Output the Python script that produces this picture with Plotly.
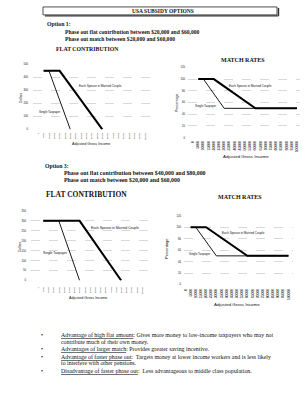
import plotly.graph_objects as go

W, H = 308, 400

# ---------------- data ----------------
INCOME_TICKS = [0, 5000, 10000, 15000, 20000, 25000, 30000, 35000, 40000, 45000,
                50000, 55000, 60000, 65000, 70000, 75000, 80000, 85000, 90000,
                95000, 100000]
INCOME_LABELS = ["0", "5000", "10000", "15000", "20000", "25000", "30000", "35000",
                 "40000", "45000", "50000", "55000", "60000", "65000", "70000",
                 "75000", "80000", "85000", "90000", "95000", "100000"]

OPT1_FLAT_MARRIED_X = [5000, 20000, 60000]
OPT1_FLAT_MARRIED_Y = [450, 450, 0]
OPT1_FLAT_SINGLE_X = [5000, 10000, 30000]
OPT1_FLAT_SINGLE_Y = [450, 450, 0]

MATCH_MARRIED_X = [5000, 20000, 60000, 100000]
MATCH_MARRIED_Y = [100, 100, 50, 50]
MATCH_SINGLE_X = [5000, 10000, 30000, 100000]
MATCH_SINGLE_Y = [100, 100, 50, 50]

OPT3_FLAT_MARRIED_X = [5000, 40000, 80000]
OPT3_FLAT_MARRIED_Y = [300, 300, 0]
OPT3_FLAT_SINGLE_X = [5000, 20000, 40000]
OPT3_FLAT_SINGLE_Y = [300, 300, 0]

DOLLAR_TICKS_OPT1 = [0, 100, 200, 300, 400, 500]
DOLLAR_TICKS_OPT3 = [0, 50, 100, 150, 200, 250, 300, 350]
PCT_TICKS = [0, 20, 40, 60, 80, 100, 120]

SERIF = "Liberation Serif"
SANS = "Liberation Sans"

# ---------------- panels (pixel geometry) ----------------
panels = [
    dict(name="1", left=33, right=150, top=63, bottom=128.7, x0=38.3, x100=145,
         ymax=500, yticks=DOLLAR_TICKS_OPT1, xfs=2.2, yfs=2.7, ystand=4, xstand=2,
         married=(OPT1_FLAT_MARRIED_X, OPT1_FLAT_MARRIED_Y),
         single=(OPT1_FLAT_SINGLE_X, OPT1_FLAT_SINGLE_Y)),
    dict(name="2", left=188, right=300, top=66, bottom=137, x0=193, x100=297,
         ymax=120, yticks=PCT_TICKS, xfs=3.3, yfs=2.7, ystand=2, xstand=2,
         married=(MATCH_MARRIED_X, MATCH_MARRIED_Y),
         single=(MATCH_SINGLE_X, MATCH_SINGLE_Y)),
    dict(name="3", left=31, right=148, top=211, bottom=281.3, x0=38, x100=142,
         ymax=350, yticks=DOLLAR_TICKS_OPT3, xfs=2.2, yfs=2.7, ystand=4, xstand=5,
         married=(OPT3_FLAT_MARRIED_X, OPT3_FLAT_MARRIED_Y),
         single=(OPT3_FLAT_SINGLE_X, OPT3_FLAT_SINGLE_Y)),
    dict(name="4", left=184, right=293, top=216, bottom=285.3, x0=185.5, x100=288.5,
         ymax=120, yticks=PCT_TICKS, xfs=3.3, yfs=2.7, ystand=2, xstand=3,
         married=(MATCH_MARRIED_X, MATCH_MARRIED_Y),
         single=(MATCH_SINGLE_X, MATCH_SINGLE_Y)),
]

fig = go.Figure()
layout = {}
for i, p in enumerate(panels):
    idx = "" if i == 0 else str(i + 1)
    scale = (p["x100"] - p["x0"]) / 100000.0
    xmin = -(p["x0"] - p["left"]) / scale
    xmax = 100000 + (p["right"] - p["x100"]) / scale
    layout["xaxis" + idx] = dict(
        domain=[p["left"] / W, p["right"] / W], range=[xmin, xmax],
        anchor="y" + idx, tickmode="array", tickvals=INCOME_TICKS,
        ticktext=INCOME_LABELS, tickangle=-90,
        tickfont=dict(family=SANS, size=p["xfs"], color="#000"),
        showgrid=False, zeroline=False, showline=False, ticks="",
        ticklabelstandoff=int(p["xstand"]), fixedrange=True)
    layout["yaxis" + idx] = dict(
        domain=[1 - p["bottom"] / H, 1 - p["top"] / H], range=[0, p["ymax"]],
        anchor="x" + idx, tickmode="array", tickvals=p["yticks"],
        tickfont=dict(family=SANS, size=p["yfs"], color="#111"),
        showgrid=True, gridcolor="#d9d9d9", gridwidth=0.6, griddash="dash",
        zeroline=False, showline=False, ticks="",
        ticklabelstandoff=int(p["ystand"]), fixedrange=True)
    mx, my = p["married"]
    sx, sy = p["single"]
    fig.add_trace(go.Scatter(x=mx, y=my, mode="lines",
                             line=dict(color="black", width=2.0),
                             xaxis="x" + idx, yaxis="y" + idx, hoverinfo="skip"))
    fig.add_trace(go.Scatter(x=sx, y=sy, mode="lines",
                             line=dict(color="black", width=0.9),
                             xaxis="x" + idx, yaxis="y" + idx, hoverinfo="skip"))

annotations = []


def ann(text, px, py, size, family=SERIF, xanchor="left", angle=0, color="#111"):
    annotations.append(dict(
        text=text, x=px / W, y=1 - py / H, xref="paper", yref="paper",
        xanchor=xanchor, yanchor="middle", showarrow=False, textangle=angle,
        font=dict(family=family, size=size, color=color)))


# header
ann("<b>USA SUBSIDY OPTIONS</b>", 162.5, 9.5, 5.5, xanchor="center")
ann("<b>Option 1:</b>", 45, 22.5, 5.8)
ann("<b>Phase out flat contribution between $20,000 and $60,000</b>", 63, 30.7, 5.6)
ann("<b>Phase out match between $20,000 and $60,000</b>", 63, 37.2, 5.6)
ann("<b>FLAT CONTRIBUTION</b>", 87.5, 47, 5.8, xanchor="center")
ann("<b>MATCH RATES</b>", 243, 58.3, 6.0, xanchor="center")

ann("<b>Option 3:</b>", 43, 166, 5.8)
ann("<b>Phase out flat contribution between $40,000 and $80,000</b>", 62, 173, 5.9)
ann("<b>Phase out match between $20,000 and $60,000</b>", 62, 179.6, 5.9)
ann("<b>FLAT CONTRIBUTION</b>", 86, 194, 7.5, xanchor="center")
ann("<b>MATCH RATES</b>", 239.5, 197.3, 6.0, xanchor="center")

# chart texts
ann("Dollars", 21, 97, 3.3, SANS, "center", -90)
ann("Adjusted Gross Income", 91, 143.7, 3.7, SANS, "center")
ann("Each Spouse in Married Couple", 77, 84.7, 3.0, SANS)
ann("Single Taxpayer", 37, 111, 3.0, SANS)

ann("Percentage", 177, 102, 3.6, SANS, "center", -90)
ann("Adjusted Gross Income", 246, 156, 4.4, SANS, "center")
ann("Each Spouse in Married Couple", 227, 84.7, 3.0, SANS)
ann("Single Taxpayer", 193, 104.7, 3.0, SANS)

ann("Dollars", 19.5, 247, 3.3, SANS, "center", -90)
ann("Adjusted Gross Income", 87.5, 299.3, 3.7, SANS, "center")
ann("Each Spouse in Married Couple", 89, 228.3, 3.4, SANS)
ann("Single Taxpayer", 40.7, 253.3, 3.4, SANS)

ann("Percentage", 166.7, 248.7, 4.0, SANS, "center", -90)
ann("Adjusted Gross Income", 236.7, 306, 4.4, SANS, "center")
ann("Each Spouse in Married Couple", 220, 233.7, 3.0, SANS)
ann("Single Taxpayer", 186.7, 254.7, 3.0, SANS)

# bullets
U = '<span style="text-decoration:underline">%s</span>'
for by in [336, 350.7, 358.3, 372.7]:
    ann("•", 41.7, by, 5.8, xanchor="center")
BS = 5.9
ann(U % "Advantage of high flat amount" + ": Gives more money to low-income taxpayers who may not", 59, 336, BS)
ann("contribute much of their own money.", 59, 343.3, BS)
ann(U % "Advantages of larger match" + ": Provides greater saving incentive.", 59, 350.7, BS)
ann(U % "Advantage of faster phase out" + ":  Targets money at lower income workers and is less likely", 59, 358.3, BS)
ann("to interfere with other pensions.", 59, 365, BS)
ann(U % "Disadvantage of faster phase out" + ":  Less advantageous to middle class population.", 59, 372.7, BS)

# title box with shadow
shapes = [
    dict(type="rect", xref="paper", yref="paper", x0=43 / W, x1=277 / W,
         y0=1 - 13 / H, y1=1 - 5 / H, line=dict(color="#222", width=0.8)),
    dict(type="line", xref="paper", yref="paper", x0=45 / W, x1=278.5 / W,
         y0=1 - 14 / H, y1=1 - 14 / H, line=dict(color="#333", width=1.4)),
    dict(type="line", xref="paper", yref="paper", x0=278.5 / W, x1=278.5 / W,
         y0=1 - 6 / H, y1=1 - 14 / H, line=dict(color="#333", width=1.4)),
]

fig.update_layout(
    width=W, height=H, autosize=False,
    margin=dict(l=0, r=0, t=0, b=0, pad=0),
    paper_bgcolor="white", plot_bgcolor="white",
    showlegend=False, annotations=annotations, shapes=shapes, **layout)

fig.write_html("out.html", config={"displayModeBar": False})
